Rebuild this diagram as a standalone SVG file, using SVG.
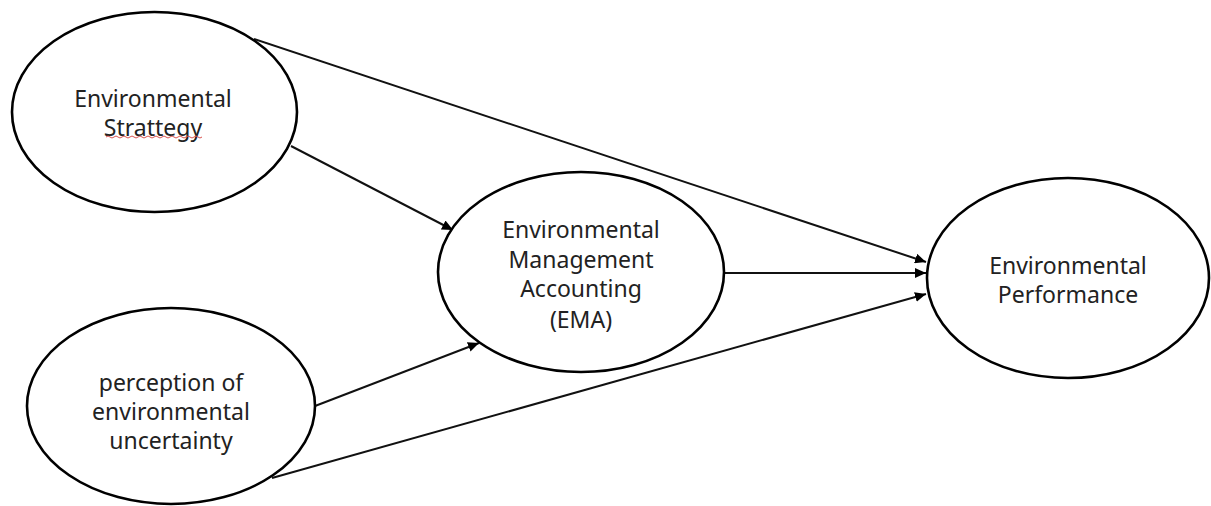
<svg xmlns="http://www.w3.org/2000/svg" width="1211" height="506" viewBox="0 0 1211 506">
<style>
.node ellipse{fill:#fff;stroke:#000;stroke-width:2.6}
.node text{font-family:"Noto Sans","Liberation Sans",sans-serif;font-size:23px;fill:#222;text-anchor:middle;dominant-baseline:central}
.edge{stroke:#111;stroke-width:2;fill:none;marker-end:url(#arr)}
</style>
<defs>
<marker id="arr" markerUnits="userSpaceOnUse" markerWidth="12" markerHeight="10" refX="11" refY="5" orient="auto">
<path d="M0,0 L11,5 L0,10 z" fill="#000"/>
</marker>
</defs>
<g id="connectors">
<line class="edge" x1="254" y1="39" x2="926" y2="262"/>
<line class="edge" x1="291" y1="146" x2="453" y2="230"/>
<line class="edge" x1="315" y1="406" x2="479" y2="343"/>
<line class="edge" x1="725" y1="273" x2="926" y2="273"/>
<line class="edge" x1="272" y1="478" x2="926" y2="294"/>
</g>
<g id="node-strategy" class="node">
<ellipse cx="154.5" cy="112" rx="142.5" ry="100"/>
<text x="153" y="98">Environmental</text>
<text x="153" y="127">Strattegy</text>
<path d="M106,137 q2,-2 4,0 t4,0 t4,0 t4,0 t4,0 t4,0 t4,0 t4,0 t4,0 t4,0 t4,0 t4,0 t4,0 t4,0 t4,0 t4,0 t4,0 t4,0 t4,0 t4,0 t4,0 t4,0 t4,0 t4,0" fill="none" stroke="#d9534f" stroke-width="1"/>
</g>
<g id="node-uncertainty" class="node">
<ellipse cx="171" cy="406" rx="144" ry="98"/>
<text x="171" y="382">perception of</text>
<text x="171" y="411">environmental</text>
<text x="171" y="440">uncertainty</text>
</g>
<g id="node-ema" class="node">
<ellipse cx="581" cy="272" rx="143" ry="100"/>
<text x="581" y="229">Environmental</text>
<text x="581" y="259">Management</text>
<text x="581" y="288">Accounting</text>
<text x="581" y="319">(EMA)</text>
</g>
<g id="node-performance" class="node">
<ellipse cx="1068" cy="278" rx="141" ry="100"/>
<text x="1068" y="265">Environmental</text>
<text x="1068" y="294">Performance</text>
</g>
</svg>
